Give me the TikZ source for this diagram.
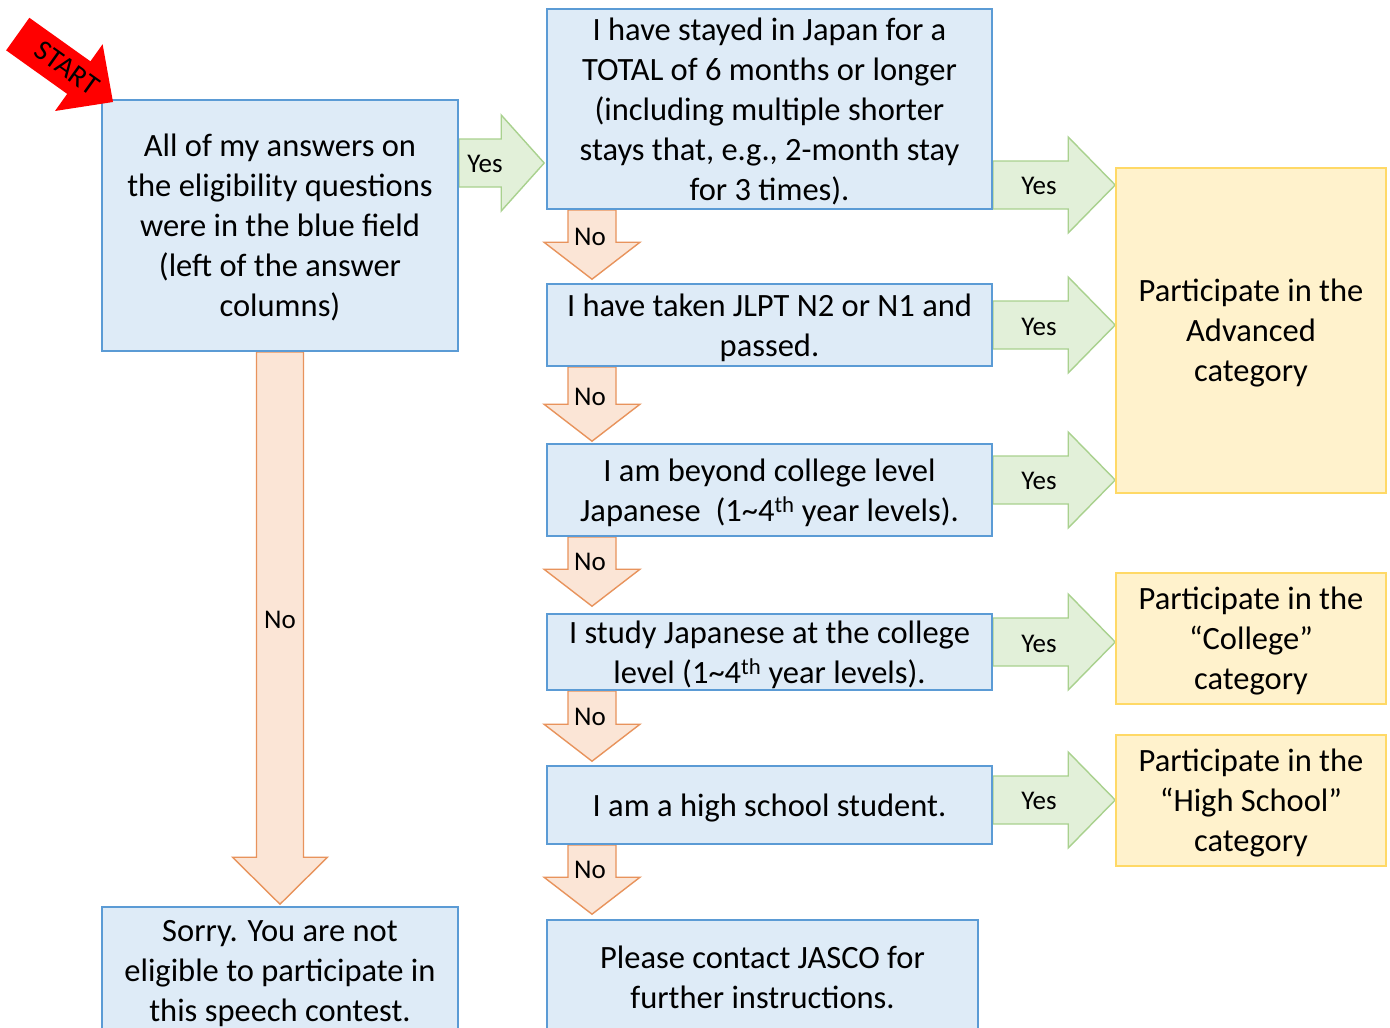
\documentclass[tikz,border=0pt]{standalone}
\usepackage{fontspec}
\setmainfont{Carlito}
\usetikzlibrary{calc,backgrounds}
\definecolor{bfill}{HTML}{DEEBF7}
\definecolor{bline}{HTML}{5B9BD5}
\definecolor{yfill}{HTML}{FFF2CC}
\definecolor{yline}{HTML}{FFD966}
\definecolor{gfill}{HTML}{E2F0D9}
\definecolor{gline}{HTML}{A9D18E}
\definecolor{ofill}{HTML}{FBE5D6}
\definecolor{oline}{HTML}{E8935C}
\newcommand\boxfont{\fontsize{32.5pt}{40pt}\selectfont}
\newcommand\labfont{\fontsize{27pt}{32pt}\selectfont}
% right block arrow: #1 start, #2 tip, #3 head length, #4 style
\newcommand\rightblock[4]{%
  \path[#4] let \p1=(#1), \p2=(#2) in
  (\x1,\y1+24pt) -- (\x2-#3,\y1+24pt) -- (\x2-#3,\y1+48pt) -- (\x2,\y1)
  -- (\x2-#3,\y1-48pt) -- (\x2-#3,\y1-24pt) -- (\x1,\y1-24pt) -- cycle;}
% down block arrow: #1 start, #2 tip, #3 shaft half, #4 head half, #5 head length, #6 style
\newcommand\downblock[6]{%
  \path[#6] let \p1=(#1), \p2=(#2) in
  (\x1-#3,\y1) -- (\x1-#3,\y2+#5) -- (\x1-#4,\y2+#5) -- (\x1,\y2)
  -- (\x1+#4,\y2+#5) -- (\x1+#3,\y2+#5) -- (\x1+#3,\y1) -- cycle;}
\tikzset{
  bluebox/.style={draw=bline, fill=bfill, line width=1.6pt, inner sep=0pt,
    align=center, font=\boxfont, text depth=0pt},
  yelbox/.style={draw=yline, fill=yfill, line width=1.6pt, inner sep=0pt,
    align=center, font=\boxfont, text depth=0pt},
  yesarr/.style={draw=gline, fill=gfill, line width=1.4pt, line join=miter},
  noarr/.style={draw=oline, fill=ofill, line width=1.4pt, line join=miter},
  lab/.style={font=\labfont, inner sep=0pt},
}
\begin{document}
\begin{tikzpicture}[x=1pt,y=-1pt]
\useasboundingbox (0,0) rectangle (1390,1028);
% boxes
\node[bluebox, minimum width=356pt, minimum height=251pt] (A) at (280,225.5)
  {All of my answers on\\the eligibility questions\\were in the blue field\\(left of the answer\\columns)};
\node[bluebox, minimum width=356pt, minimum height=128pt] (sorry) at (280,971)
  {Sorry. You are not\\eligible to participate in\\this speech contest.};
\node[bluebox, minimum width=445pt, minimum height=200pt] (q1) at (769.5,109)
  {I have stayed in Japan for a\\TOTAL of 6 months or longer\\(including multiple shorter\\stays that, e.g., 2-month stay\\for 3 times).};
\node[bluebox, minimum width=445pt, minimum height=82pt] (q2) at (769.5,325)
  {I have taken JLPT N2 or N1 and\\passed.};
\node[bluebox, minimum width=445pt, minimum height=92pt] (q3) at (769.5,490)
  {I am beyond college level\\Japanese\ \ (1\textasciitilde4\textsuperscript{th} year levels).};
\node[bluebox, minimum width=445pt, minimum height=76pt] (q4) at (769.5,652)
  {I study Japanese at the college\\level (1\textasciitilde4\textsuperscript{th} year levels).};
\node[bluebox, minimum width=445pt, minimum height=78pt] (q5) at (769.5,805)
  {I am a high school student.};
\node[bluebox, minimum width=431pt, minimum height=115pt] (contact) at (762.5,977.5)
  {Please contact JASCO for\\further instructions.};
\node[yelbox, minimum width=270pt, minimum height=325pt] (adv) at (1251,330.5)
  {Participate in the\\Advanced\\category};
\node[yelbox, minimum width=270pt, minimum height=131pt] (college) at (1251,638.5)
  {Participate in the\\“College”\\category};
\node[yelbox, minimum width=270pt, minimum height=131pt] (hs) at (1251,800.5)
  {Participate in the\\“High School”\\category};
\coordinate (nx) at (592,0);
\coordinate (y1) at (0,163);
\coordinate (y2) at (0,185);
\coordinate (y3) at (0,325);
\coordinate (y4) at (0,480);
\coordinate (y5) at (0,642);
\coordinate (y6) at (0,800);
\begin{pgfonlayer}{background}
  \fill[white] (0,0) rectangle (1390,1028);
  % yes arrows
  \rightblock{A.east |- y1}{$(q1.west |- y1)+(-2,0)$}{43pt}{yesarr}
  \rightblock{q1.east |- y2}{adv.west |- y2}{47pt}{yesarr}
  \rightblock{q2.east |- y3}{adv.west |- y3}{47pt}{yesarr}
  \rightblock{q3.east |- y4}{adv.west |- y4}{47pt}{yesarr}
  \rightblock{q4.east |- y5}{college.west |- y5}{47pt}{yesarr}
  \rightblock{q5.east |- y6}{hs.west |- y6}{47pt}{yesarr}
  % no arrows
  \downblock{q1.south -| nx}{$(q2.north -| nx)+(0,-4)$}{24pt}{48pt}{37pt}{noarr}
  \downblock{q2.south -| nx}{$(q3.north -| nx)+(0,-2)$}{24pt}{48pt}{37pt}{noarr}
  \downblock{q3.south -| nx}{$(q4.north -| nx)+(0,-7)$}{24pt}{48pt}{37pt}{noarr}
  \downblock{q4.south -| nx}{$(q5.north -| nx)+(0,-4)$}{24pt}{48pt}{37pt}{noarr}
  \downblock{q5.south -| nx}{$(contact.north -| nx)+(0,-5)$}{24pt}{48pt}{37pt}{noarr}
  \downblock{A.south}{$(sorry.north)+(0,-2)$}{23.5pt}{47.5pt}{47pt}{noarr}
\end{pgfonlayer}
% labels
\node[lab] (yes1) at (485,164) {Yes};
\node[lab] (yes2) at (1039,186) {Yes};
\node[lab] (yes3) at (1039,327) {Yes};
\node[lab] (yes4) at (1039,481) {Yes};
\node[lab] (yes5) at (1039,644) {Yes};
\node[lab] (yes6) at (1039,801) {Yes};
\node[lab] (no1) at (590,237) {No};
\node[lab] (no2) at (590,397) {No};
\node[lab] (no3) at (590,562) {No};
\node[lab] (no4) at (590,717) {No};
\node[lab] (no5) at (590,870) {No};
\node[lab] (no6) at (280,620) {No};
% START arrow
\begin{scope}[shift={(113,102)}, rotate=-35.5]
  \fill[red] (0,0) -- (-42,41) -- (-42,20) -- (-117,20) -- (-117,-20)
    -- (-42,-20) -- (-42,-41) -- cycle;
  \node[transform shape, font=\fontsize{29pt}{32pt}\selectfont, inner sep=0pt] (start) at (-57,-1) {START};
\end{scope}
\end{tikzpicture}
\end{document}
